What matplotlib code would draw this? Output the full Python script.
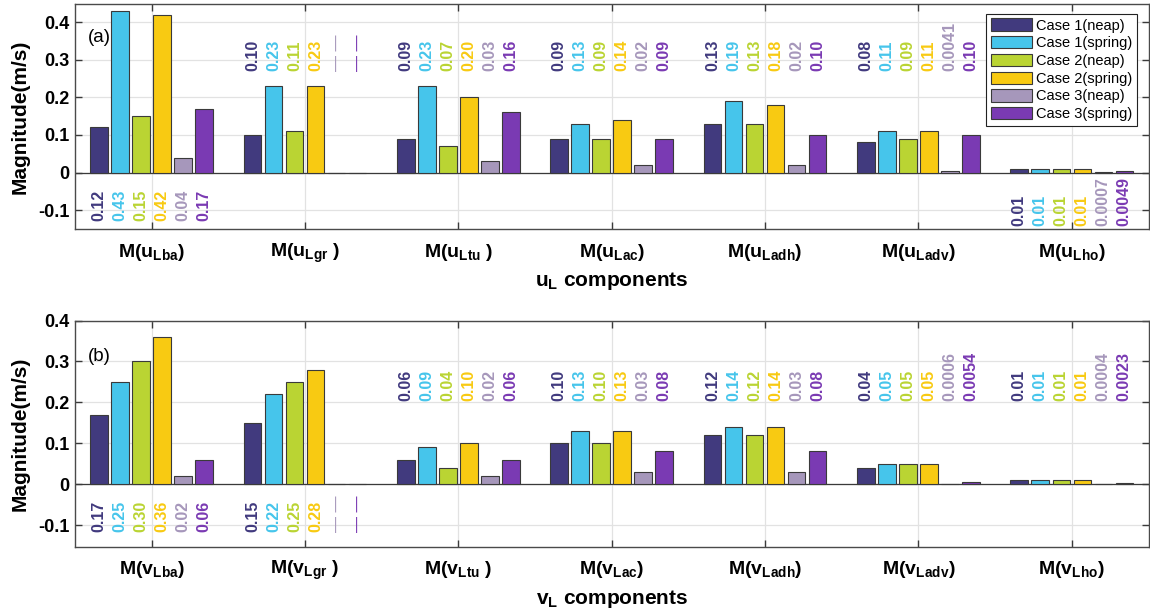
import matplotlib
matplotlib.use("Agg")
import matplotlib.pyplot as plt
import numpy as np
from matplotlib.patches import Patch

plt.rcParams["font.family"] = ["Liberation Sans", "DejaVu Sans"]
plt.rcParams["mathtext.fontset"] = "custom"
plt.rcParams["mathtext.rm"] = "Liberation Sans"
plt.rcParams["mathtext.bf"] = "Liberation Sans:bold"
plt.rcParams["mathtext.it"] = "Liberation Sans:italic"

# ---- data ----
CASES = ["Case 1(neap)", "Case 1(spring)", "Case 2(neap)",
         "Case 2(spring)", "Case 3(neap)", "Case 3(spring)"]
COLORS = ["#413A7E", "#46C5EB", "#BAD433", "#F8CA12", "#A697BB", "#7A3AB3"]

U_COMPONENTS = ["Lba", "Lgr", "Ltu", "Lac", "Ladh", "Ladv", "Lho"]
V_COMPONENTS = ["Lba", "Lgr", "Ltu", "Lac", "Ladh", "Ladv", "Lho"]

# one list per case, 7 components each (nan = not available)
u_case1_neap = [0.12, 0.10, 0.09, 0.09, 0.13, 0.08, 0.01]
u_case1_spring = [0.43, 0.23, 0.23, 0.13, 0.19, 0.11, 0.01]
u_case2_neap = [0.15, 0.11, 0.07, 0.09, 0.13, 0.09, 0.01]
u_case2_spring = [0.42, 0.23, 0.20, 0.14, 0.18, 0.11, 0.01]
u_case3_neap = [0.04, np.nan, 0.03, 0.02, 0.02, 0.0041, 0.0007]
u_case3_spring = [0.17, np.nan, 0.16, 0.09, 0.10, 0.10, 0.0049]

v_case1_neap = [0.17, 0.15, 0.06, 0.10, 0.12, 0.04, 0.01]
v_case1_spring = [0.25, 0.22, 0.09, 0.13, 0.14, 0.05, 0.01]
v_case2_neap = [0.30, 0.25, 0.04, 0.10, 0.12, 0.05, 0.01]
v_case2_spring = [0.36, 0.28, 0.10, 0.13, 0.14, 0.05, 0.01]
v_case3_neap = [0.02, np.nan, 0.02, 0.03, 0.03, 0.0006, 0.0004]
v_case3_spring = [0.06, np.nan, 0.06, 0.08, 0.08, 0.0054, 0.0023]

U_DATA = [u_case1_neap, u_case1_spring, u_case2_neap,
          u_case2_spring, u_case3_neap, u_case3_spring]
V_DATA = [v_case1_neap, v_case1_spring, v_case2_neap,
          v_case2_spring, v_case3_neap, v_case3_spring]

# where the value labels sit (baseline of rotated text), per component
U_LABEL_Y = [-0.13, 0.27, 0.27, 0.27, 0.27, 0.27, -0.142]
V_LABEL_Y = [-0.116, -0.116, 0.202, 0.202, 0.202, 0.202, 0.202]


def fmt(v):
    if np.isnan(v):
        return "\u2014 \u2014"
    return f"{v:.4f}" if v < 0.01 else f"{v:.2f}"


def draw_panel(ax, data, comps, label_y, var, tag, ylim):
    x = np.arange(1, len(comps) + 1)
    step = 0.137
    width = 0.115
    for i, (vals, col) in enumerate(zip(data, COLORS)):
        xs = x + (i - 2.5) * step
        vals = np.asarray(vals, dtype=float)
        ax.bar(xs, np.nan_to_num(vals), width=width, color=col,
               edgecolor="#3a3a3a", linewidth=0.8, zorder=3,
               label=CASES[i])
        for xx, v, ly in zip(xs, vals, label_y):
            if np.isnan(v):
                ax.text(xx, ly, fmt(v), rotation=90, ha="center",
                        va="bottom", color=col, fontsize=11.5,
                        fontweight="light", zorder=4)
            else:
                ax.text(xx, ly, fmt(v), rotation=90, ha="center",
                        va="bottom", color=col, fontsize=11.5,
                        fontweight="bold", zorder=4)

    ax.set_xlim(0.5, len(comps) + 0.5)
    ax.set_ylim(*ylim)
    ax.set_yticks([-0.1, 0, 0.1, 0.2, 0.3, 0.4])
    ax.set_yticklabels(["-0.1", "0", "0.1", "0.2", "0.3", "0.4"])
    ax.set_xticks(x)
    labels = []
    for c in comps:
        sp = r"\,\," if c in ("Lgr", "Ltu") else ""
        labels.append(r"$\mathbf{M(" + var + r"_{" + c + r"}" + sp + r")}$")
    ax.set_xticklabels(labels)
    ax.tick_params(axis="x", labelsize=14, direction="in", top=True,
                   length=5, width=1, pad=9, color="#3a3a3a")
    ax.tick_params(axis="y", labelsize=13, direction="in", right=True,
                   length=5, width=1, pad=4, color="#3a3a3a")
    for lab in ax.get_yticklabels():
        lab.set_fontweight("bold")
    ax.grid(True, color="#e2e2e2", linewidth=0.9, zorder=0)
    ax.set_axisbelow(True)
    for sp in ax.spines.values():
        sp.set_color("#4a4a4a")
        sp.set_linewidth(1.0)
    ax.axhline(0, color="#3a3a3a", linewidth=0.9, zorder=2)
    ax.set_ylabel("Magnitude(m/s)", fontsize=15, fontweight="bold",
                  labelpad=6)
    ax.set_xlabel(r"$\mathbf{" + var + r"_{L}}$" + " components",
                  fontsize=15, fontweight="bold", labelpad=4)
    ax.text(0.012, 0.83 if tag == "(a)" else 0.82, tag,
            transform=ax.transAxes, fontsize=13.5, zorder=5)


fig = plt.figure(figsize=(11.5, 6.12), dpi=100)
ax1 = fig.add_axes([0.0652, 0.6258, 0.9335, 0.3677])
ax2 = fig.add_axes([0.0652, 0.1067, 0.9335, 0.3696])

draw_panel(ax1, U_DATA, U_COMPONENTS, U_LABEL_Y, "u", "(a)", (-0.15, 0.448))
draw_panel(ax2, V_DATA, V_COMPONENTS, V_LABEL_Y, "v", "(b)", (-0.153, 0.40))

handles = [Patch(facecolor=c, edgecolor="#3a3a3a", linewidth=0.8)
           for c in COLORS]
leg = ax1.legend(handles, CASES, loc="upper right",
                 bbox_to_anchor=(0.989, 0.955), fontsize=10.5,
                 frameon=True, fancybox=False, framealpha=1,
                 edgecolor="#222222", handlelength=2.8, handleheight=0.9,
                 handletextpad=0.3, labelspacing=0.25, borderpad=0.3,
                 borderaxespad=0)
leg.get_frame().set_linewidth(0.8)
leg.set_zorder(10)

fig.savefig("out.png", dpi=100)
